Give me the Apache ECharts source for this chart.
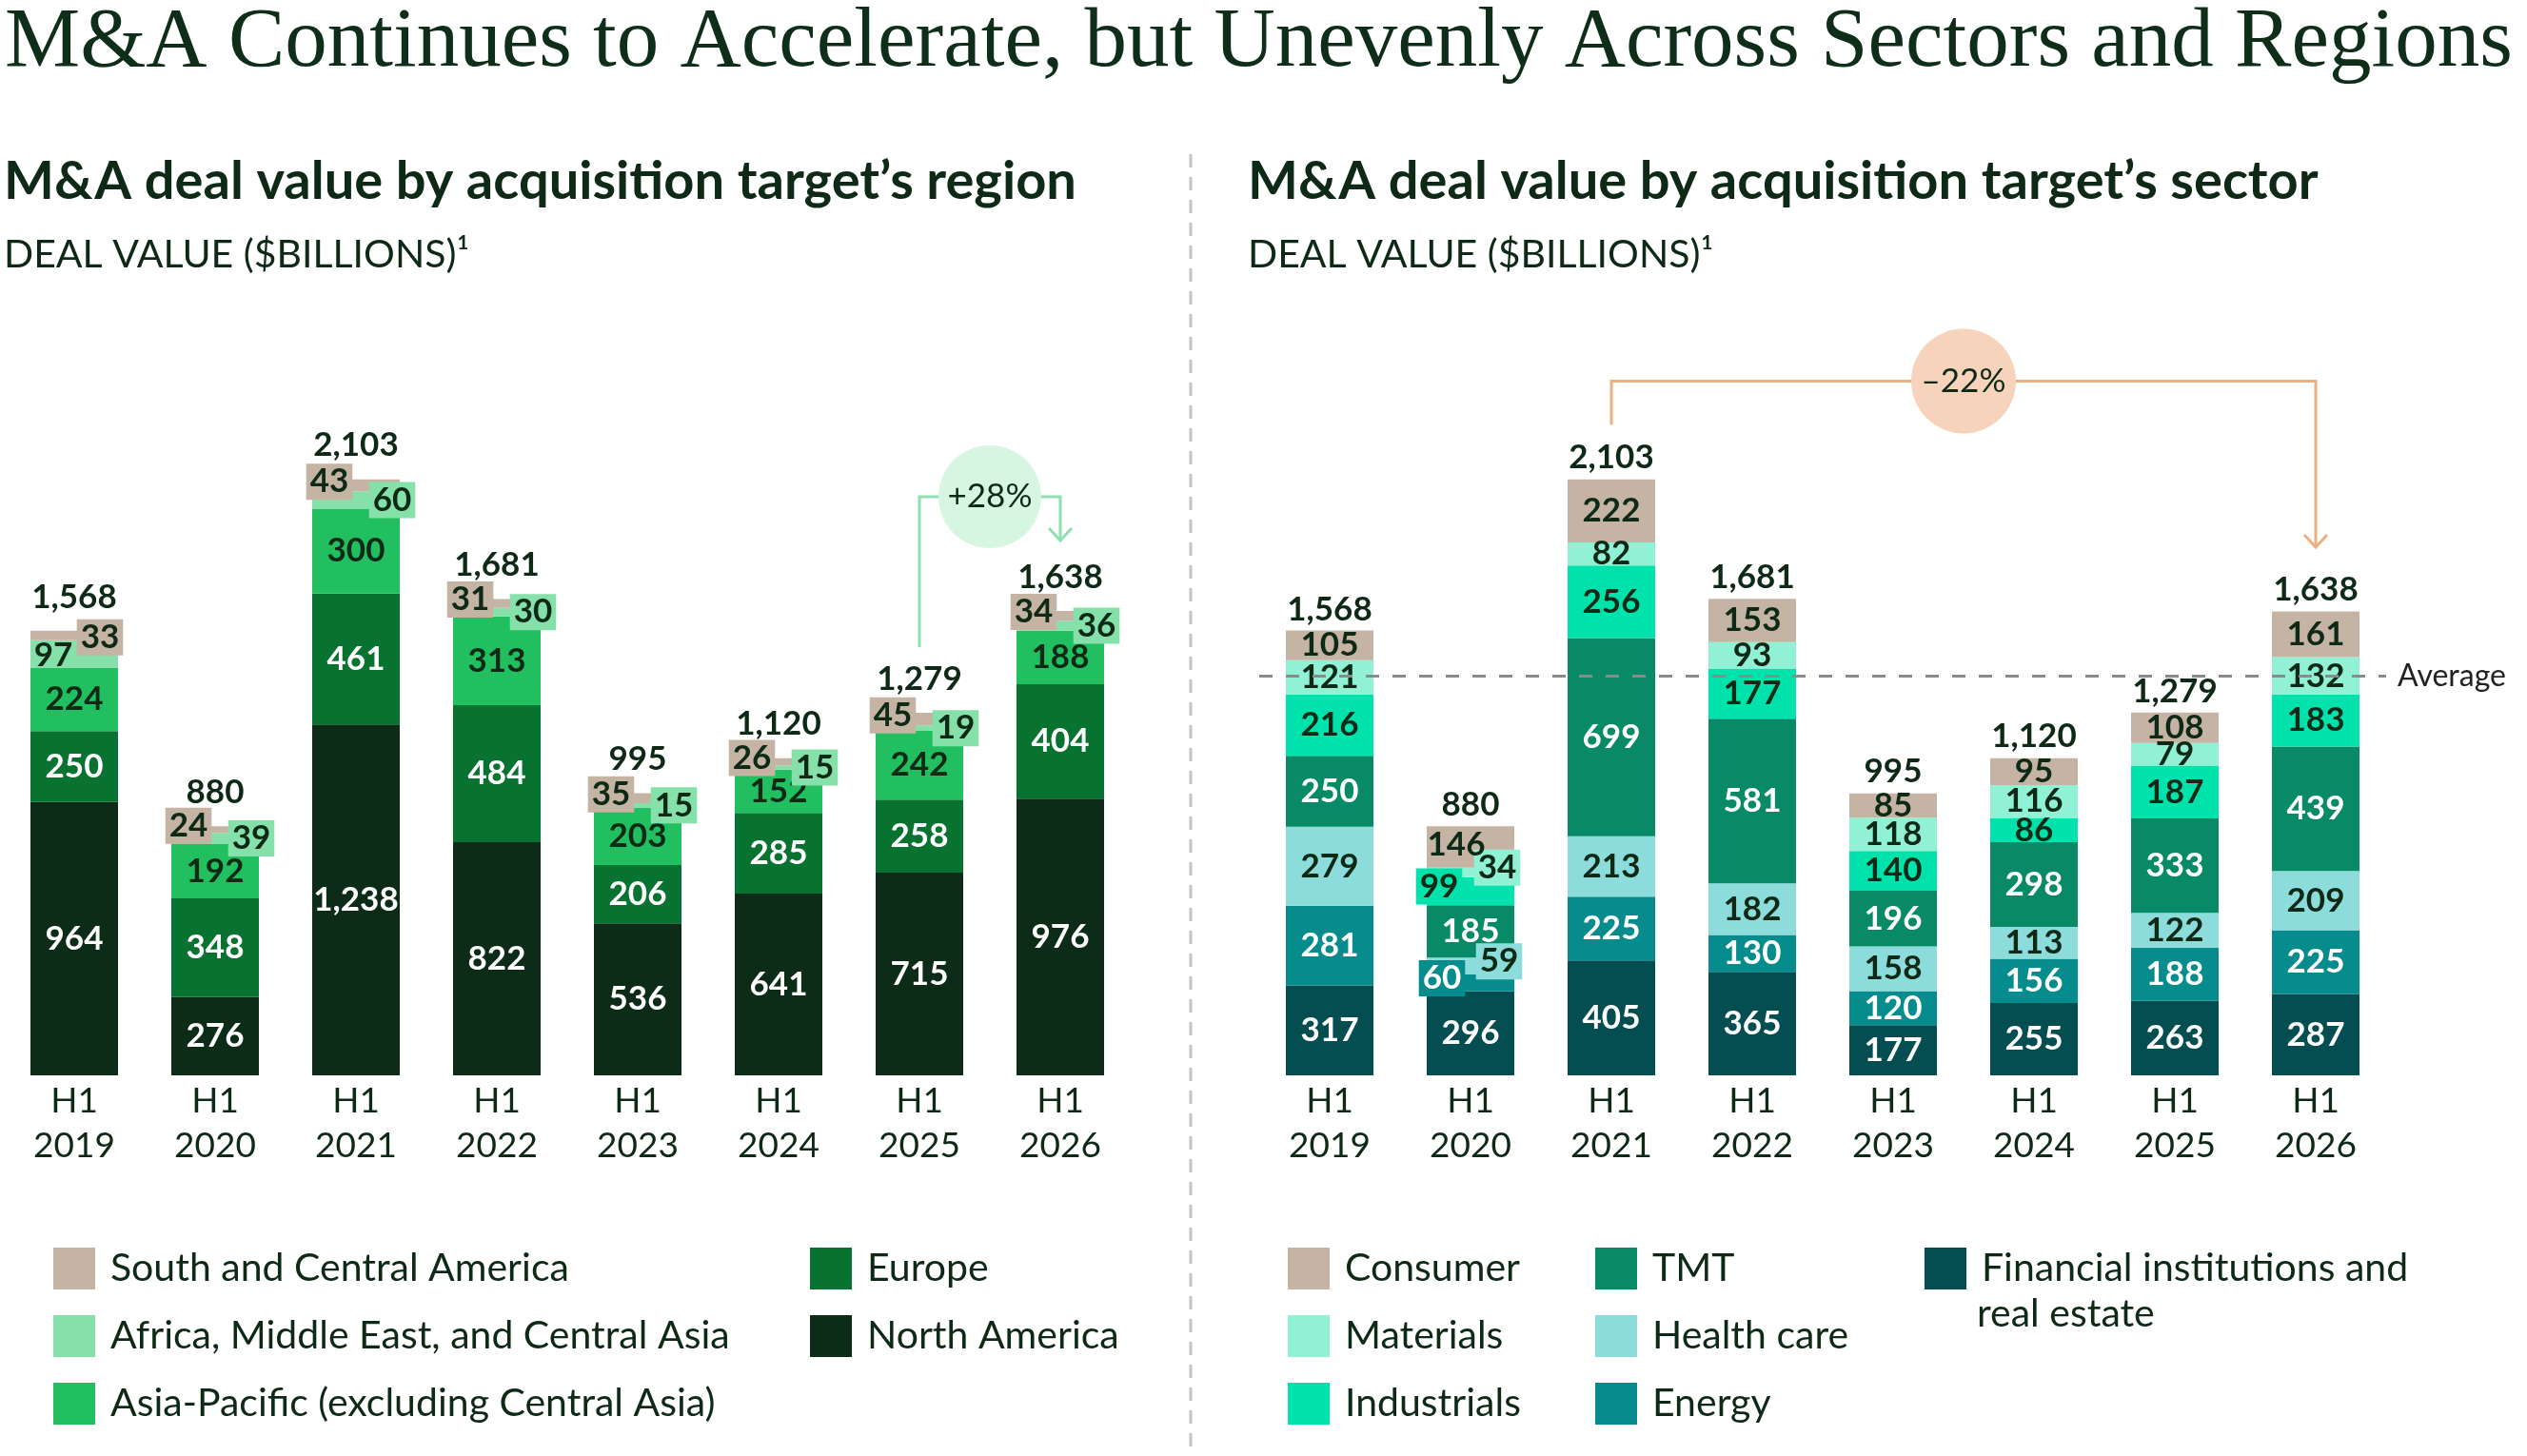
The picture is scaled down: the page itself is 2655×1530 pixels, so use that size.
<!DOCTYPE html>
<html>
<head>
<meta charset="utf-8">
<script src="https://cdn.jsdelivr.net/npm/echarts@6/dist/echarts.min.js"></script>
<style>
html, body { margin: 0; padding: 0; background: #fff; }
#chart-container { width: 2655px; height: 1530px; }
</style>
</head>
<body>
<div id="chart-container"></div>
<script>
// categories
var periods = ['H1\n2019', 'H1\n2020', 'H1\n2021', 'H1\n2022', 'H1\n2023', 'H1\n2024', 'H1\n2025', 'H1\n2026'];

// deal value by target region ($B), bottom to top
var northAmerica = [964, 276, 1238, 822, 536, 641, 715, 976];
var europe = [250, 348, 461, 484, 206, 285, 258, 404];
var asiaPacific = [224, 192, 300, 313, 203, 152, 242, 188];
var africaMidEast = [97, 39, 60, 30, 15, 15, 19, 36];
var southCentralAmerica = [33, 24, 43, 31, 35, 26, 45, 34];
var regionTotals = [1568, 880, 2103, 1681, 995, 1120, 1279, 1638];

// deal value by target sector ($B), bottom to top
var financialRealEstate = [317, 296, 405, 365, 177, 255, 263, 287];
var energy = [281, 60, 225, 130, 120, 156, 188, 225];
var healthCare = [279, 59, 213, 182, 158, 113, 122, 209];
var tmt = [250, 185, 699, 581, 196, 298, 333, 439];
var industrials = [216, 99, 256, 177, 140, 86, 187, 183];
var materials = [121, 34, 82, 93, 118, 116, 79, 132];
var consumer = [105, 146, 222, 153, 85, 95, 108, 161];
var sectorTotals = [1568, 880, 2103, 1681, 995, 1120, 1279, 1638];

var FONT = 'Lato, "Noto Sans", sans-serif';
var INK = '#0E2A17';
var FIN_NAME = 'Financial institutions and real estate';

var C = {
	sca: '#C5B4A3', ame: '#86E0AA', apac: '#22BF60', eu: '#087331', na: '#0C2C17',
	cons: '#C5B4A3', mat: '#91F1D4', ind: '#00E2AC', tmt: '#078A65', hc: '#8CDCDC', en: '#068C8C', fin: '#044E52'
};

function fmt(p) {
	return Number(p.value).toLocaleString('en-US');
}

function stackSeries(name, values, color, textColor, axis, labelExtra, overrides) {
	return {
		name: name,
		type: 'bar',
		stack: 'stack' + axis,
		xAxisIndex: axis,
		yAxisIndex: axis,
		barWidth: 92,
		barGap: '-100%',
		itemStyle: { color: color },
		label: Object.assign({
			show: true,
			position: 'inside',
			color: textColor,
			fontFamily: FONT,
			fontSize: 35,
			fontWeight: 700,
			lineHeight: 36,
			formatter: fmt
		}, labelExtra || {}),
		data: values.map(function (v, i) {
			return overrides && overrides[i] ? { value: v, label: overrides[i] } : v;
		})
	};
}

function totalSeries(name, totals, axis, distance, extra) {
	return Object.assign({
		name: name,
		type: 'bar',
		xAxisIndex: axis,
		yAxisIndex: axis,
		barWidth: 92,
		barGap: '-100%',
		silent: true,
		z: 1,
		itemStyle: { color: 'rgba(0,0,0,0)' },
		label: {
			show: true,
			position: 'top',
			distance: distance,
			color: INK,
			fontFamily: FONT,
			fontSize: 35,
			fontWeight: 700,
			formatter: fmt
		},
		data: totals
	}, extra || {});
}

var boxPad = [2, 4, 0, 4];

var sectorAverage = sectorTotals.reduce(function (a, b) { return a + b; }, 0) / sectorTotals.length;

var series = [
	stackSeries('North America', northAmerica, C.na, '#fff', 0),
	stackSeries('Europe', europe, C.eu, '#fff', 0),
	stackSeries('Asia-Pacific (excluding Central Asia)', asiaPacific, C.apac, INK, 0),
	stackSeries('Africa, Middle East, and Central Asia', africaMidEast, C.ame, INK, 0,
		{ offset: [38, 0], backgroundColor: C.ame, padding: boxPad },
		{ 0: { offset: [-22, 2], backgroundColor: 'transparent' } }),
	stackSeries('South and Central America', southCentralAmerica, C.sca, INK, 0,
		{ offset: [-28, -4], backgroundColor: C.sca, padding: boxPad },
		{ 0: { offset: [27, 2] } }),
	totalSeries('Region total', regionTotals, 0, 18),

	stackSeries(FIN_NAME, financialRealEstate, C.fin, '#fff', 1),
	stackSeries('Energy', energy, C.en, '#fff', 1, null,
		{ 1: { offset: [-30, -5], backgroundColor: C.en, padding: boxPad } }),
	stackSeries('Health care', healthCare, C.hc, INK, 1, null,
		{ 1: { offset: [30, -5], backgroundColor: C.hc, padding: boxPad } }),
	stackSeries('TMT', tmt, C.tmt, '#fff', 1),
	stackSeries('Industrials', industrials, C.ind, INK, 1, null,
		{ 1: { offset: [-33, -5], backgroundColor: C.ind, padding: boxPad } }),
	stackSeries('Materials', materials, C.mat, INK, 1, null,
		{ 1: { offset: [28, -5], backgroundColor: C.mat, padding: boxPad } }),
	stackSeries('Consumer', consumer, C.cons, INK, 1, null,
		{ 1: { offset: [-15, -2] } }),
	totalSeries('Sector total', sectorTotals, 1, 5, {
		markLine: {
			silent: true,
			symbol: 'none',
			z: 10,
			lineStyle: { type: [14, 14], color: '#8A8A8A', width: 3 },
			label: {
				position: 'end',
				distance: 12,
				formatter: 'Average',
				color: '#222',
				fontFamily: FONT,
				fontSize: 32
			},
			data: [{ yAxis: sectorAverage }]
		}
	})
];

function legendCol(left, top, names) {
	return {
		orient: 'vertical',
		left: left,
		top: top,
		icon: 'rect',
		itemWidth: 44,
		itemHeight: 44,
		itemGap: 27,
		selectedMode: false,
		textStyle: {
			fontFamily: FONT,
			fontSize: 41,
			color: INK,
			lineHeight: 44,
			padding: [0, 0, 0, 11]
		},
		// the long sector name wraps; its second line is added below as text
		formatter: function (name) {
			return name === FIN_NAME ? 'Financial institutions and' : name;
		},
		data: names
	};
}

function catAxis(grid) {
	return {
		type: 'category',
		gridIndex: grid,
		data: periods,
		axisLine: { show: false },
		axisTick: { show: false },
		axisLabel: { color: INK, fontFamily: FONT, fontSize: 37, lineHeight: 47, margin: 4 }
	};
}

function valAxis(grid) {
	return { type: 'value', gridIndex: grid, min: 0, max: 2400, show: false, splitLine: { show: false } };
}

var option = {
	animation: false,
	backgroundColor: '#fff',
	title: [
		{ text: 'M&A Continues to Accelerate, but Unevenly Across Sectors and Regions', left: 0, top: -4,
			textStyle: { fontFamily: '"Liberation Serif", serif', fontSize: 89, fontWeight: 'normal', color: '#0F2E1A' } },
		{ text: 'M&A deal value by acquisition target’s region', left: -1, top: 158,
			textStyle: { fontFamily: FONT, fontSize: 56, fontWeight: 700, color: INK } },
		{ text: 'DEAL VALUE ($BILLIONS)¹', left: -1, top: 242,
			textStyle: { fontFamily: FONT, fontSize: 41, fontWeight: 'normal', color: INK } },
		{ text: 'M&A deal value by acquisition target’s sector', left: 1306, top: 158,
			textStyle: { fontFamily: FONT, fontSize: 56, fontWeight: 700, color: INK } },
		{ text: 'DEAL VALUE ($BILLIONS)¹', left: 1306, top: 242,
			textStyle: { fontFamily: FONT, fontSize: 41, fontWeight: 'normal', color: INK } }
	],
	grid: [
		{ left: 4, width: 1184, top: 415, bottom: 400 },
		{ left: 1323, width: 1184, top: 415, bottom: 400 }
	],
	xAxis: [catAxis(0), catAxis(1)],
	yAxis: [valAxis(0), valAxis(1)],
	legend: [
		legendCol(51, 1306, ['South and Central America', 'Africa, Middle East, and Central Asia', 'Asia-Pacific (excluding Central Asia)']),
		legendCol(846, 1306, ['Europe', 'North America']),
		legendCol(1348, 1306, ['Consumer', 'Materials', 'Industrials']),
		legendCol(1671, 1306, ['TMT', 'Health care', 'Energy']),
		legendCol(2017, 1306, [FIN_NAME])
	],
	series: series
};

var dom = document.getElementById('chart-container');
var myChart = echarts.init(dom, null, { renderer: 'canvas' });
myChart.setOption(option);

// annotation brackets, placed from the axes
function px(axis, i, v) {
	return myChart.convertToPixel({ xAxisIndex: axis, yAxisIndex: axis }, [i, v]);
}

function bracket(x1, y1, x2, yTop, y2, lineColor, bubbleColor, text, r) {
	var cx = (x1 + x2) / 2;
	return [
		{ type: 'polyline', silent: true, z: 5,
			shape: { points: [[x1, y1], [x1, yTop], [x2, yTop], [x2, y2]] },
			style: { stroke: lineColor, lineWidth: 3, fill: null } },
		{ type: 'polyline', silent: true, z: 5,
			shape: { points: [[x2 - 12, y2 - 13], [x2, y2], [x2 + 12, y2 - 13]] },
			style: { stroke: lineColor, lineWidth: 3, fill: null } },
		{ type: 'circle', silent: true, z: 6,
			shape: { cx: cx, cy: yTop, r: r },
			style: { fill: bubbleColor } },
		{ type: 'text', silent: true, z: 7, x: cx, y: yTop,
			style: { text: text, fill: INK, font: '35px ' + FONT, align: 'center', verticalAlign: 'middle' } }
	];
}

var a0 = px(0, 6, regionTotals[6]);
var b0 = px(0, 7, regionTotals[7]);
var a1 = px(1, 2, sectorTotals[2]);
var b1 = px(1, 7, sectorTotals[7]);

var graphics = [
	{ type: 'line', silent: true,
		shape: { x1: 1251, y1: 162, x2: 1251, y2: 1530 },
		style: { stroke: '#C4C4C4', lineWidth: 3, lineDash: [14, 10] } },
	{ type: 'text', silent: true, x: 2077, y: 1381,
		style: { text: 'real estate', fill: INK, font: '41px ' + FONT, verticalAlign: 'middle' } }
].concat(
	bracket(a0[0], a0[1] - 69, b0[0], b0[1] - 120, b0[1] - 74, '#8EE0B0', '#D6F6E2', '+28%', 54),
	bracket(a1[0], a1[1] - 57, b1[0], a1[1] - 103, b1[1] - 67, '#EBAF80', '#F8D3BC', '–22%', 55)
);

myChart.setOption({ graphic: graphics });

window.addEventListener('resize', myChart.resize);
</script>
</body>
</html>
